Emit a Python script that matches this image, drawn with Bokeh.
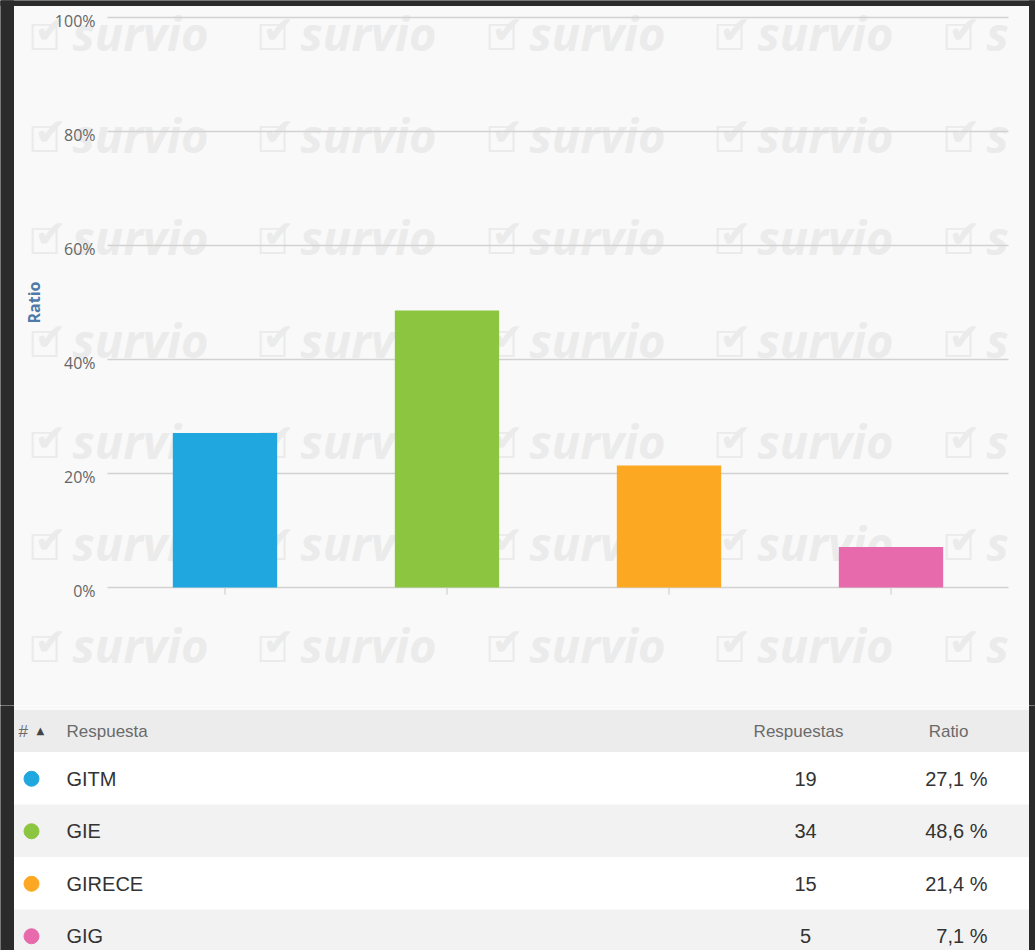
import math
from bokeh.plotting import figure
from bokeh.layouts import column
from bokeh.models import ColumnDataSource, Range1d, Label
from bokeh.core.properties import value
from bokeh.embed import file_html
from bokeh.resources import INLINE

# ---- data ----
categories = ["GITM", "GIE", "GIRECE", "GIG"]
counts = [19, 34, 15, 5]
ratios = [27.1, 48.6, 21.4, 7.1]
colors = ["#21a7e0", "#8cc540", "#fca822", "#e66aac"]
y_ticks = [0, 20, 40, 60, 80, 100]

DARK = "#2b2b2b"
BG = "#f9f9f9"
FONT = "Liberation Sans"
W = 1035
CHART_H, TABLE_H = 705, 245

# page-pixel geometry of the chart
CAT0_PX, CAT_PX = 113.5, 222.0      # left edge of first category slot, slot width
Y0_PX, Y100_PX = 587.0, 17.0        # pixel rows of 0% and 100%
GRID_L, GRID_R = 107, 1008
PER_PCT = (Y0_PX - Y100_PX) / 100.0
N = len(categories)

# ---- chart figure (frame = whole figure) ----
p = figure(width=W, height=CHART_H, toolbar_location=None, output_backend="svg",
           x_range=Range1d(-CAT0_PX / CAT_PX, (W - CAT0_PX) / CAT_PX),
           y_range=Range1d(-(CHART_H - Y0_PX) / PER_PCT, Y0_PX / PER_PCT),
           x_axis_location=None, y_axis_location=None, min_border=0,
           background_fill_color=BG, border_fill_color=BG, outline_line_color=None,
           frame_align=False)
p.grid.visible = False
p.extra_x_ranges = {"px": Range1d(0, W)}
p.extra_y_ranges = {"py": Range1d(CHART_H, 0)}

# watermark
WM = dict(x_range_name="px", y_range_name="py", text_color="#ebebeb",
          text_baseline="middle", text_align="left", level="image")
WM_X = [28, 256, 485, 713, 942]
for yc in [33, 135, 237, 340, 441, 543, 645]:
    for xc in WM_X:
        p.add_layout(Label(x=xc, y=yc + 4, text="☐", text_font="DejaVu Sans",
                           text_font_size="36px", **WM))
        p.add_layout(Label(x=xc + 6, y=yc - 4, text="✔", text_font="DejaVu Sans",
                           text_font_size="38px", **WM))
        word = "survio" if xc != WM_X[-1] else "s"   # last one is hidden by the frame edge
        p.add_layout(Label(x=xc + 44, y=yc - 1, text=word, text_font="Open Sans",
                           text_font_style="bold italic", text_font_size="47px", **WM))

# grid lines
p.segment(x0=GRID_L, x1=GRID_R, y0=y_ticks, y1=y_ticks, x_range_name="px",
          line_color="#d2d2d2", line_width=1.5)

# bars
cat_x = [i + 0.5 for i in range(N)]
src = ColumnDataSource(dict(x=cat_x, cat=categories, ratio=ratios, color=colors))
p.vbar(x="x", top="ratio", width=0.47, color="color", source=src, line_color=None)
p.segment(x0="x", x1="x", y0=0, y1=-1.25, source=src, line_color="#c8c8c8", line_width=1)

# y tick labels & axis title
p.text(x=95, y=y_ticks, text=[f"{v}%" for v in y_ticks], x_range_name="px",
       text_font=value("Open Sans"), text_font_size="16px", text_color="#666666",
       text_align="right", text_baseline="middle", y_offset=3)
p.text(x=[33], y=[(Y0_PX + Y100_PX) / 2], text=["Ratio"], x_range_name="px", y_range_name="py",
       angle=math.pi / 2, text_font=value("Open Sans"), text_font_style="bold",
       text_font_size="16px", text_color="#4d7aa8", text_align="center",
       text_baseline="middle")

# dark frame
p.quad(left=[0, 0, 1029], right=[13, W, W], top=[0, 0, 0], bottom=[CHART_H, 5, CHART_H],
       x_range_name="px", y_range_name="py", color=DARK)

# ---- table ----
t = figure(width=W, height=TABLE_H, toolbar_location=None, output_backend="svg",
           x_range=Range1d(0, W), y_range=Range1d(950, 705), min_border=0,
           x_axis_location=None, y_axis_location=None, outline_line_color=None,
           background_fill_color=BG, border_fill_color=BG, frame_align=False)
t.grid.visible = False

HEAD_TOP, HEAD_BOT, ROW_H = 710, 752, 52.5
t.quad(left=13, right=1029, top=HEAD_TOP, bottom=HEAD_BOT, color="#ececec")
t.segment(x0=13, x1=1029, y0=HEAD_BOT, y1=HEAD_BOT, line_color="#e0e0e0", line_width=1)
row_top = [HEAD_BOT + ROW_H * i for i in range(N)]
row_mid = [HEAD_BOT + ROW_H * (i + 0.5) for i in range(N)]
row_bg = ["#ffffff" if i % 2 == 0 else "#f2f2f2" for i in range(N)]
t.quad(left=13, right=1029, top=row_top, bottom=[r + ROW_H for r in row_top], color=row_bg)

hy = (HEAD_TOP + HEAD_BOT) / 2
HDR = dict(text_font=value(FONT), text_font_size="17px", text_color="#6a6a6a",
           text_baseline="middle")
t.text(x=[18], y=[hy], text=["#"], **HDR)
t.text(x=[36], y=[hy - 1], text=["▲"], text_font=value("DejaVu Sans"), text_font_size="10px",
       text_color="#444444", text_baseline="middle")
t.text(x=[66], y=[hy], text=["Respuesta"], **HDR)
t.text(x=[798], y=[hy], text=["Respuestas"], text_align="center", **HDR)
t.text(x=[948], y=[hy], text=["Ratio"], text_align="center", **HDR)

tsrc = ColumnDataSource(dict(
    y=row_mid, name=categories, color=colors,
    cnt=[str(c) for c in counts],
    rat=[f"{r:.1f}".replace(".", ",") + " %" for r in ratios],
))
ROW = dict(text_font=value(FONT), text_font_size="20px", text_color="#333333",
           text_baseline="middle")
t.scatter(x=31, y="y", size=15, color="color", source=tsrc)
t.text(x=66, y="y", text="name", source=tsrc, **ROW)
t.text(x=805, y="y", text="cnt", source=tsrc, text_align="center", **ROW)
t.text(x=987, y="y", text="rat", source=tsrc, text_align="right", **ROW)

t.quad(left=[0, 1029], right=[13, W], top=[705, 705], bottom=[950, 950], color=DARK)

layout = column(p, t)

open("out.html", "w").write(file_html(layout, INLINE))
